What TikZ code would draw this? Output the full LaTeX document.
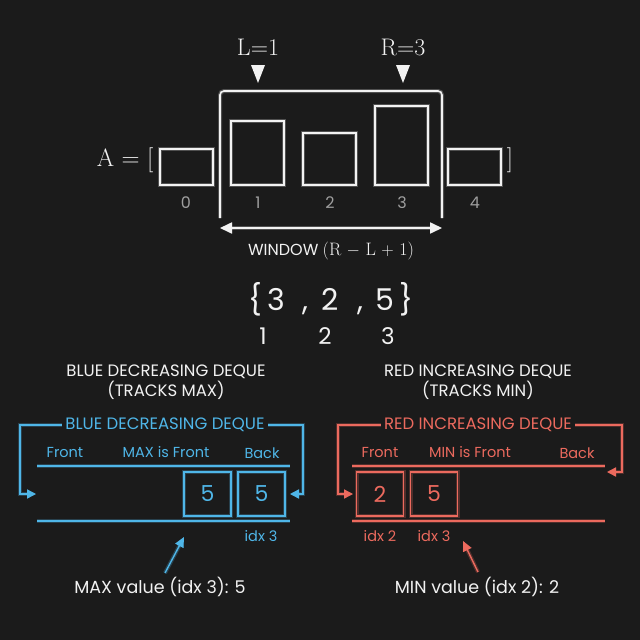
\documentclass[tikz,border=0pt]{standalone}
\usepackage{fontspec}
\setsansfont{Poppins}
\usetikzlibrary{arrows.meta}
\definecolor{bg}{HTML}{1B1B1B}
\definecolor{bl}{HTML}{4FB6E8}
\definecolor{rd}{HTML}{EC6A5E}
\definecolor{wh}{HTML}{F2F2F2}
\tikzset{
 glow/.style={preaction={draw=#1,line width=4pt,opacity=0.25}},
 wbox/.style={draw=wh,line width=1.6pt,glow=wh,minimum width=53pt,inner sep=0},
 dqbox/.style={line width=1.4pt,minimum width=47pt,minimum height=44pt,font=\sffamily\fontsize{22}{22}\selectfont},
 bbox/.style={dqbox,draw=bl,glow=bl,text=bl},
 rbox/.style={dqbox,draw=rd,glow=rd,text=rd},
 lbl/.style={font=\sffamily\fontsize{14.5}{14.5}\selectfont},
 idx/.style={font=\sffamily\fontsize{16}{16}\selectfont,text=gray!75},
}
\begin{document}
\begin{tikzpicture}[x=1pt,y=-1pt]
\fill[bg] (0,0) rectangle (640,640);
% array
\node[wbox,minimum height=36pt] (b0) at (186.5,167) {};
\node[wbox,minimum height=64pt] (b1) at (257.5,153) {};
\node[wbox,minimum height=52pt] (b2) at (329.5,159) {};
\node[wbox,minimum height=79pt] (b3) at (401.5,145.5) {};
\node[wbox,minimum height=36pt] (b4) at (474.5,167) {};
\foreach \i/\x in {0/186,1/258,2/330,3/402,4/475}
  \node[idx] (i\i) at (\x,203) {\i};
\node[text=wh,font=\fontsize{25}{25}\selectfont,anchor=east] (A) at (157,160) {A = [};
\node[text=wh,font=\fontsize{25}{25}\selectfont] (rb) at (510,160) {]};
\draw[wh,line width=1.6pt,glow=wh,rounded corners=4pt] (220,218) -- (220,91) -- (442,91) -- (442,218);
\coordinate (wl) at (220,228); \coordinate (wr) at (442,228);
\draw[wh,line width=1.6pt,glow=wh,{Triangle[width=11pt,length=12pt]}-{Triangle[width=11pt,length=12pt]}] (wl) -- (wr);
\node[text=wh,font=\sffamily\fontsize{16}{16}\selectfont] (win) at (331,251) {WINDOW {\rmfamily\fontsize{18}{18}\selectfont(R $-$ L $+$ 1)}};
\node[text=wh,font=\fontsize{24}{24}\selectfont] (L) at (258,47) {L=1};
\node[text=wh,font=\fontsize{24}{24}\selectfont] (R) at (403,47) {R=3};
\fill[wh] (251,65) -- (265,65) -- (258,83) -- cycle;
\fill[wh] (396,65) -- (410,65) -- (403,83) -- cycle;
% subarray
\node[text=wh,font=\sffamily\fontsize{30}{30}\selectfont] (sub) at (331,299) {\{\,3\,\, , \,2\,\, , \,5\,\}};
\foreach \n/\x in {1/263,2/325,3/388}
  \node[text=wh,font=\sffamily\fontsize{23}{23}\selectfont] (s\n) at (\x,336) {\n};
% headings
\node[text=wh,font=\sffamily\fontsize{16.5}{20}\selectfont,align=center] (hb) at (166,382) {BLUE DECREASING DEQUE\\(TRACKS MAX)};
\node[text=wh,font=\sffamily\fontsize{16.5}{20}\selectfont,align=center] (hr) at (478,382) {RED INCREASING DEQUE\\(TRACKS MIN)};
% blue deque
\node[text=bl,font=\sffamily\fontsize{16.5}{16.5}\selectfont] (bt) at (165,425) {BLUE DECREASING DEQUE};
\draw[bl,line width=1.4pt,glow=bl,-{Triangle[width=9pt,length=9pt]}] (bt.west) -- (20,425) -- (20,494) -- (36,494);
\draw[bl,line width=1.4pt,glow=bl,-{Triangle[width=9pt,length=9pt]}] (bt.east) -- (303,425) -- (303,494) -- (290,494);
\node[lbl,text=bl] (bf) at (65,453) {Front};
\node[lbl,text=bl] (bm) at (166,452) {MAX is Front};
\node[lbl,text=bl] (bk) at (262,453) {Back};
\draw[bl,line width=1.4pt,glow=bl] (37,466) -- (290,466);
\draw[bl,line width=1.4pt,glow=bl] (37,521) -- (290,521);
\node[bbox] (bx1) at (207.5,494) {5};
\node[bbox] (bx2) at (261.5,494) {5};
\node[lbl,text=bl] (bi) at (261,536) {idx 3};
\node[text=wh,font=\sffamily\fontsize{17.5}{17.5}\selectfont] (bv) at (160,587) {MAX value (idx 3): 5};
\draw[bl,line width=1.4pt,glow=bl,-{Triangle[width=9pt,length=10pt]}] (165,573) -- (184,537);
% red deque
\node[text=rd,font=\sffamily\fontsize{16.5}{16.5}\selectfont] (rt) at (478,425) {RED INCREASING DEQUE};
\draw[rd,line width=1.4pt,glow=rd,-{Triangle[width=9pt,length=9pt]}] (rt.west) -- (338,425) -- (338,494) -- (353,494);
\draw[rd,line width=1.4pt,glow=rd,-{Triangle[width=9pt,length=9pt]}] (rt.east) -- (622,425) -- (622,472) -- (607,472);
\node[lbl,text=rd] (rf) at (380,453) {Front};
\node[lbl,text=rd] (rm) at (470,452) {MIN is Front};
\node[lbl,text=rd] (rk) at (577,453) {Back};
\draw[rd,line width=1.4pt,glow=rd] (352,466) -- (605,466);
\draw[rd,line width=1.4pt,glow=rd] (352,521) -- (605,521);
\node[rbox] (rx1) at (380,494) {2};
\node[rbox] (rx2) at (434,494) {5};
\node[lbl,text=rd] (ri1) at (380,536) {idx 2};
\node[lbl,text=rd] (ri2) at (434,536) {idx 3};
\node[text=wh,font=\sffamily\fontsize{17.5}{17.5}\selectfont] (rv) at (477,587) {MIN value (idx 2): 2};
\draw[rd,line width=1.4pt,glow=rd,-{Triangle[width=9pt,length=10pt]}] (478,572) -- (463,541);
\end{tikzpicture}
\end{document}
